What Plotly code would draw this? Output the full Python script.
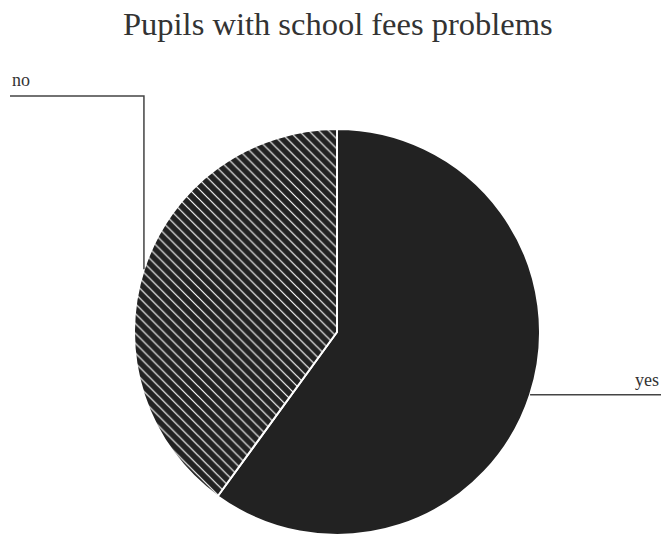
import math
import plotly.graph_objects as go

# ---- data ----
categories = ["yes", "no"]
values = [60, 40]
title_text = "Pupils with school fees problems"

# ---- layout constants (window pixels) ----
W, H = 661, 535
CX, CY, R = 337, 332, 203          # pie centre / radius in px (from top-left)
DARK = "#222222"
TXT = "#333333"
SERIF = "Liberation Serif, Times New Roman, serif"

def px_to_paper(x, y):
    return x / W, 1 - y / H

dx0, dy0 = px_to_paper(CX - R, CY + R)
dx1, dy1 = px_to_paper(CX + R, CY - R)

fig = go.Figure(
    go.Pie(
        labels=categories,
        values=values,
        sort=False,
        direction="clockwise",
        rotation=0,
        textinfo="none",
        hoverinfo="label+value",
        showlegend=False,
        marker=dict(
            colors=[DARK, DARK],
            line=dict(color="white", width=2),
            pattern=dict(
                shape=["", "\\"],
                fgcolor="white",
                bgcolor=DARK,
                fillmode="replace",
                size=7,
                solidity=0.17,
            ),
        ),
        domain=dict(x=[max(dx0, 0), min(dx1, 1)], y=[max(dy0, 0), min(dy1, 1)]),
    )
)

# ---- leader lines computed from slice mid-angles ----
total = sum(values)
cum = 0
mids = {}
for lab, v in zip(categories, values):
    mid = 2 * math.pi * (cum + v / 2) / total
    mids[lab] = (CX + R * math.sin(mid), CY - R * math.cos(mid))
    cum += v

shapes = []
annotations = []

# "no": vertical up from the slice then horizontal to the left
nx, ny = mids["no"]
elbow_y = 96
left_x = 10
p = [px_to_paper(nx, ny), px_to_paper(nx, elbow_y), px_to_paper(left_x, elbow_y)]
shapes.append(dict(type="path", xref="paper", yref="paper",
                   path=f"M {p[0][0]} {p[0][1]} L {p[1][0]} {p[1][1]} L {p[2][0]} {p[2][1]}",
                   line=dict(color="#444", width=1.5)))
ax, ay = px_to_paper(left_x, elbow_y - 4)
annotations.append(dict(text="no", x=ax, y=ay, xref="paper", yref="paper",
                        xanchor="left", yanchor="bottom", showarrow=False,
                        font=dict(family=SERIF, size=18, color=TXT)))

# "yes": horizontal to the right edge
yx, yy = mids["yes"]
p = [px_to_paper(yx, yy), px_to_paper(W, yy)]
shapes.append(dict(type="line", xref="paper", yref="paper",
                   x0=p[0][0], y0=p[0][1], x1=p[1][0], y1=p[1][1],
                   line=dict(color="#444", width=1.5)))
ax, ay = px_to_paper(W, yy - 3)
annotations.append(dict(text="yes", x=ax, y=ay, xref="paper", yref="paper",
                        xanchor="right", yanchor="bottom", showarrow=False,
                        font=dict(family=SERIF, size=18, color=TXT)))

# title
tx, ty = px_to_paper(337.5, 24)
annotations.append(dict(text=title_text, x=tx, y=ty, xref="paper", yref="paper",
                        xanchor="center", yanchor="middle", showarrow=False,
                        font=dict(family=SERIF, size=32.5, color=TXT)))

fig.update_layout(
    width=W, height=H,
    margin=dict(l=0, r=0, t=0, b=0),
    paper_bgcolor="white",
    plot_bgcolor="white",
    shapes=shapes,
    annotations=annotations,
)

# remove the browser's default 8px body margin so the figure fills the window
fig.write_html("out.html",
               config={"displayModeBar": False},
               post_script="document.body.style.margin='0';document.body.style.overflow='hidden';")
